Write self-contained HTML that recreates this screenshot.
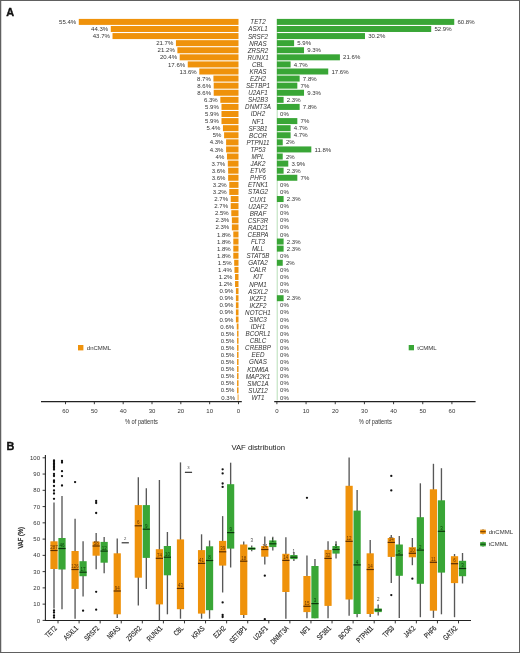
<!DOCTYPE html>
<html><head><meta charset="utf-8"><title>CMML mutations</title>
<style>
html,body{margin:0;padding:0;background:#fff}
body{width:520px;height:653px;overflow:hidden;position:relative}
svg{position:absolute;left:0;top:0;display:block;filter:blur(0.3px)}
.frame{position:absolute;left:0;top:0;width:520px;height:653px;box-sizing:border-box;border:1px solid #606060;box-shadow:inset 1px 0 0 rgba(96,96,96,0.25)}
svg text{font-family:"Liberation Sans",sans-serif}
</style></head><body>
<svg width="520" height="653" viewBox="0 0 520 653" font-family='"Liberation Sans", sans-serif'>
<text x="6.2" y="15.9" font-size="10.9" font-weight="bold" fill="#111" stroke="#111" stroke-width="0.35">A</text>
<text x="6.6" y="449.9" font-size="10.9" font-weight="bold" fill="#111" stroke="#111" stroke-width="0.35">B</text>
<rect x="78.78" y="18.90" width="159.72" height="6.0" fill="#ef920b"/>
<rect x="276.90" y="18.90" width="177.35" height="6.0" fill="#39a636"/>
<rect x="110.78" y="25.98" width="127.72" height="6.0" fill="#ef920b"/>
<rect x="276.90" y="25.98" width="154.31" height="6.0" fill="#39a636"/>
<rect x="112.51" y="33.07" width="125.99" height="6.0" fill="#ef920b"/>
<rect x="276.90" y="33.07" width="88.09" height="6.0" fill="#39a636"/>
<rect x="175.94" y="40.16" width="62.56" height="6.0" fill="#ef920b"/>
<rect x="276.90" y="40.16" width="17.21" height="6.0" fill="#39a636"/>
<rect x="177.38" y="47.24" width="61.12" height="6.0" fill="#ef920b"/>
<rect x="276.90" y="47.24" width="27.13" height="6.0" fill="#39a636"/>
<rect x="179.69" y="54.32" width="58.81" height="6.0" fill="#ef920b"/>
<rect x="276.90" y="54.32" width="63.01" height="6.0" fill="#39a636"/>
<rect x="187.76" y="61.41" width="50.74" height="6.0" fill="#ef920b"/>
<rect x="276.90" y="61.41" width="13.71" height="6.0" fill="#39a636"/>
<rect x="199.29" y="68.50" width="39.21" height="6.0" fill="#ef920b"/>
<rect x="276.90" y="68.50" width="51.34" height="6.0" fill="#39a636"/>
<rect x="213.42" y="75.58" width="25.08" height="6.0" fill="#ef920b"/>
<rect x="276.90" y="75.58" width="22.75" height="6.0" fill="#39a636"/>
<rect x="213.71" y="82.66" width="24.79" height="6.0" fill="#ef920b"/>
<rect x="276.90" y="82.66" width="20.42" height="6.0" fill="#39a636"/>
<rect x="213.71" y="89.75" width="24.79" height="6.0" fill="#ef920b"/>
<rect x="276.90" y="89.75" width="27.13" height="6.0" fill="#39a636"/>
<rect x="220.34" y="96.84" width="18.16" height="6.0" fill="#ef920b"/>
<rect x="276.90" y="96.84" width="6.71" height="6.0" fill="#39a636"/>
<rect x="221.49" y="103.92" width="17.01" height="6.0" fill="#ef920b"/>
<rect x="276.90" y="103.92" width="22.75" height="6.0" fill="#39a636"/>
<rect x="221.49" y="111.00" width="17.01" height="6.0" fill="#ef920b"/>
<rect x="221.49" y="118.09" width="17.01" height="6.0" fill="#ef920b"/>
<rect x="276.90" y="118.09" width="20.42" height="6.0" fill="#39a636"/>
<rect x="222.93" y="125.18" width="15.57" height="6.0" fill="#ef920b"/>
<rect x="276.90" y="125.18" width="13.71" height="6.0" fill="#39a636"/>
<rect x="224.09" y="132.26" width="14.41" height="6.0" fill="#ef920b"/>
<rect x="276.90" y="132.26" width="13.71" height="6.0" fill="#39a636"/>
<rect x="226.10" y="139.34" width="12.40" height="6.0" fill="#ef920b"/>
<rect x="276.90" y="139.34" width="5.83" height="6.0" fill="#39a636"/>
<rect x="226.10" y="146.43" width="12.40" height="6.0" fill="#ef920b"/>
<rect x="276.90" y="146.43" width="34.42" height="6.0" fill="#39a636"/>
<rect x="226.97" y="153.52" width="11.53" height="6.0" fill="#ef920b"/>
<rect x="276.90" y="153.52" width="5.83" height="6.0" fill="#39a636"/>
<rect x="227.83" y="160.60" width="10.67" height="6.0" fill="#ef920b"/>
<rect x="276.90" y="160.60" width="11.38" height="6.0" fill="#39a636"/>
<rect x="228.12" y="167.69" width="10.38" height="6.0" fill="#ef920b"/>
<rect x="276.90" y="167.69" width="6.71" height="6.0" fill="#39a636"/>
<rect x="228.12" y="174.77" width="10.38" height="6.0" fill="#ef920b"/>
<rect x="276.90" y="174.77" width="20.42" height="6.0" fill="#39a636"/>
<rect x="229.27" y="181.86" width="9.23" height="6.0" fill="#ef920b"/>
<rect x="229.27" y="188.94" width="9.23" height="6.0" fill="#ef920b"/>
<rect x="230.72" y="196.03" width="7.78" height="6.0" fill="#ef920b"/>
<rect x="276.90" y="196.03" width="6.71" height="6.0" fill="#39a636"/>
<rect x="230.72" y="203.11" width="7.78" height="6.0" fill="#ef920b"/>
<rect x="231.29" y="210.19" width="7.21" height="6.0" fill="#ef920b"/>
<rect x="231.87" y="217.28" width="6.63" height="6.0" fill="#ef920b"/>
<rect x="231.87" y="224.37" width="6.63" height="6.0" fill="#ef920b"/>
<rect x="233.31" y="231.45" width="5.19" height="6.0" fill="#ef920b"/>
<rect x="233.31" y="238.53" width="5.19" height="6.0" fill="#ef920b"/>
<rect x="276.90" y="238.53" width="6.71" height="6.0" fill="#39a636"/>
<rect x="233.31" y="245.62" width="5.19" height="6.0" fill="#ef920b"/>
<rect x="276.90" y="245.62" width="6.71" height="6.0" fill="#39a636"/>
<rect x="233.31" y="252.71" width="5.19" height="6.0" fill="#ef920b"/>
<rect x="234.18" y="259.79" width="4.32" height="6.0" fill="#ef920b"/>
<rect x="276.90" y="259.79" width="5.83" height="6.0" fill="#39a636"/>
<rect x="234.46" y="266.88" width="4.04" height="6.0" fill="#ef920b"/>
<rect x="235.04" y="273.96" width="3.46" height="6.0" fill="#ef920b"/>
<rect x="235.04" y="281.04" width="3.46" height="6.0" fill="#ef920b"/>
<rect x="235.91" y="288.13" width="2.59" height="6.0" fill="#ef920b"/>
<rect x="235.91" y="295.21" width="2.59" height="6.0" fill="#ef920b"/>
<rect x="276.90" y="295.21" width="6.71" height="6.0" fill="#39a636"/>
<rect x="235.91" y="302.30" width="2.59" height="6.0" fill="#ef920b"/>
<rect x="235.91" y="309.38" width="2.59" height="6.0" fill="#ef920b"/>
<rect x="235.91" y="316.47" width="2.59" height="6.0" fill="#ef920b"/>
<rect x="236.77" y="323.55" width="1.73" height="6.0" fill="#ef920b"/>
<rect x="237.06" y="330.64" width="1.44" height="6.0" fill="#ef920b"/>
<rect x="237.06" y="337.72" width="1.44" height="6.0" fill="#ef920b"/>
<rect x="237.06" y="344.81" width="1.44" height="6.0" fill="#ef920b"/>
<rect x="237.06" y="351.89" width="1.44" height="6.0" fill="#ef920b"/>
<rect x="237.06" y="358.98" width="1.44" height="6.0" fill="#ef920b"/>
<rect x="237.06" y="366.06" width="1.44" height="6.0" fill="#ef920b"/>
<rect x="237.06" y="373.15" width="1.44" height="6.0" fill="#ef920b"/>
<rect x="237.06" y="380.23" width="1.44" height="6.0" fill="#ef920b"/>
<rect x="237.06" y="387.32" width="1.44" height="6.0" fill="#ef920b"/>
<rect x="237.64" y="394.40" width="0.86" height="6.0" fill="#ef920b"/>
<line x1="277.2" y1="18.9" x2="277.2" y2="400.405" stroke="#39a636" stroke-width="0.6" opacity="0.6"/>
<g font-size="6.05" fill="#333" font-family='"Liberation Sans", sans-serif'><text x="76.18" y="24.00" text-anchor="end">55.4%</text><text x="457.45" y="24.00">60.8%</text><text x="108.18" y="31.09" text-anchor="end">44.3%</text><text x="434.41" y="31.09">52.9%</text><text x="109.91" y="38.17" text-anchor="end">43.7%</text><text x="368.19" y="38.17">30.2%</text><text x="173.34" y="45.26" text-anchor="end">21.7%</text><text x="297.31" y="45.26">5.9%</text><text x="174.78" y="52.34" text-anchor="end">21.2%</text><text x="307.23" y="52.34">9.3%</text><text x="177.09" y="59.42" text-anchor="end">20.4%</text><text x="343.11" y="59.42">21.6%</text><text x="185.16" y="66.51" text-anchor="end">17.6%</text><text x="293.81" y="66.51">4.7%</text><text x="196.69" y="73.59" text-anchor="end">13.6%</text><text x="331.44" y="73.59">17.6%</text><text x="210.82" y="80.68" text-anchor="end">8.7%</text><text x="302.85" y="80.68">7.8%</text><text x="211.11" y="87.76" text-anchor="end">8.6%</text><text x="300.52" y="87.76">7%</text><text x="211.11" y="94.85" text-anchor="end">8.6%</text><text x="307.23" y="94.85">9.3%</text><text x="217.74" y="101.94" text-anchor="end">6.3%</text><text x="286.81" y="101.94">2.3%</text><text x="218.89" y="109.02" text-anchor="end">5.9%</text><text x="302.85" y="109.02">7.8%</text><text x="218.89" y="116.10" text-anchor="end">5.9%</text><text x="280.10" y="116.10">0%</text><text x="218.89" y="123.19" text-anchor="end">5.9%</text><text x="300.52" y="123.19">7%</text><text x="220.33" y="130.28" text-anchor="end">5.4%</text><text x="293.81" y="130.28">4.7%</text><text x="221.49" y="137.36" text-anchor="end">5%</text><text x="293.81" y="137.36">4.7%</text><text x="223.50" y="144.44" text-anchor="end">4.3%</text><text x="285.93" y="144.44">2%</text><text x="223.50" y="151.53" text-anchor="end">4.3%</text><text x="314.52" y="151.53">11.8%</text><text x="224.37" y="158.62" text-anchor="end">4%</text><text x="285.93" y="158.62">2%</text><text x="225.23" y="165.70" text-anchor="end">3.7%</text><text x="291.48" y="165.70">3.9%</text><text x="225.52" y="172.78" text-anchor="end">3.6%</text><text x="286.81" y="172.78">2.3%</text><text x="225.52" y="179.87" text-anchor="end">3.6%</text><text x="300.52" y="179.87">7%</text><text x="226.67" y="186.96" text-anchor="end">3.2%</text><text x="280.10" y="186.96">0%</text><text x="226.67" y="194.04" text-anchor="end">3.2%</text><text x="280.10" y="194.04">0%</text><text x="228.12" y="201.12" text-anchor="end">2.7%</text><text x="286.81" y="201.12">2.3%</text><text x="228.12" y="208.21" text-anchor="end">2.7%</text><text x="280.10" y="208.21">0%</text><text x="228.69" y="215.29" text-anchor="end">2.5%</text><text x="280.10" y="215.29">0%</text><text x="229.27" y="222.38" text-anchor="end">2.3%</text><text x="280.10" y="222.38">0%</text><text x="229.27" y="229.47" text-anchor="end">2.3%</text><text x="280.10" y="229.47">0%</text><text x="230.71" y="236.55" text-anchor="end">1.8%</text><text x="280.10" y="236.55">0%</text><text x="230.71" y="243.63" text-anchor="end">1.8%</text><text x="286.81" y="243.63">2.3%</text><text x="230.71" y="250.72" text-anchor="end">1.8%</text><text x="286.81" y="250.72">2.3%</text><text x="230.71" y="257.81" text-anchor="end">1.8%</text><text x="280.10" y="257.81">0%</text><text x="231.58" y="264.89" text-anchor="end">1.5%</text><text x="285.93" y="264.89">2%</text><text x="231.86" y="271.98" text-anchor="end">1.4%</text><text x="280.10" y="271.98">0%</text><text x="232.44" y="279.06" text-anchor="end">1.2%</text><text x="280.10" y="279.06">0%</text><text x="232.44" y="286.14" text-anchor="end">1.2%</text><text x="280.10" y="286.14">0%</text><text x="233.31" y="293.23" text-anchor="end">0.9%</text><text x="280.10" y="293.23">0%</text><text x="233.31" y="300.31" text-anchor="end">0.9%</text><text x="286.81" y="300.31">2.3%</text><text x="233.31" y="307.40" text-anchor="end">0.9%</text><text x="280.10" y="307.40">0%</text><text x="233.31" y="314.49" text-anchor="end">0.9%</text><text x="280.10" y="314.49">0%</text><text x="233.31" y="321.57" text-anchor="end">0.9%</text><text x="280.10" y="321.57">0%</text><text x="234.17" y="328.65" text-anchor="end">0.6%</text><text x="280.10" y="328.65">0%</text><text x="234.46" y="335.74" text-anchor="end">0.5%</text><text x="280.10" y="335.74">0%</text><text x="234.46" y="342.82" text-anchor="end">0.5%</text><text x="280.10" y="342.82">0%</text><text x="234.46" y="349.91" text-anchor="end">0.5%</text><text x="280.10" y="349.91">0%</text><text x="234.46" y="357.00" text-anchor="end">0.5%</text><text x="280.10" y="357.00">0%</text><text x="234.46" y="364.08" text-anchor="end">0.5%</text><text x="280.10" y="364.08">0%</text><text x="234.46" y="371.17" text-anchor="end">0.5%</text><text x="280.10" y="371.17">0%</text><text x="234.46" y="378.25" text-anchor="end">0.5%</text><text x="280.10" y="378.25">0%</text><text x="234.46" y="385.33" text-anchor="end">0.5%</text><text x="280.10" y="385.33">0%</text><text x="234.46" y="392.42" text-anchor="end">0.5%</text><text x="280.10" y="392.42">0%</text><text x="235.04" y="399.50" text-anchor="end">0.3%</text><text x="280.10" y="399.50">0%</text></g>
<g font-size="6.5" font-style="italic" fill="#333" transform="translate(258 0) scale(0.965 1) translate(-258 0)"><text x="258" y="24.40" text-anchor="middle">TET2</text><text x="258" y="31.48" text-anchor="middle">ASXL1</text><text x="258" y="38.57" text-anchor="middle">SRSF2</text><text x="258" y="45.66" text-anchor="middle">NRAS</text><text x="258" y="52.74" text-anchor="middle">ZRSR2</text><text x="258" y="59.82" text-anchor="middle">RUNX1</text><text x="258" y="66.91" text-anchor="middle">CBL</text><text x="258" y="74.00" text-anchor="middle">KRAS</text><text x="258" y="81.08" text-anchor="middle">EZH2</text><text x="258" y="88.16" text-anchor="middle">SETBP1</text><text x="258" y="95.25" text-anchor="middle">U2AF1</text><text x="258" y="102.34" text-anchor="middle">SH2B3</text><text x="258" y="109.42" text-anchor="middle">DNMT3A</text><text x="258" y="116.50" text-anchor="middle">IDH2</text><text x="258" y="123.59" text-anchor="middle">NF1</text><text x="258" y="130.68" text-anchor="middle">SF3B1</text><text x="258" y="137.76" text-anchor="middle">BCOR</text><text x="258" y="144.84" text-anchor="middle">PTPN11</text><text x="258" y="151.93" text-anchor="middle">TP53</text><text x="258" y="159.02" text-anchor="middle">MPL</text><text x="258" y="166.10" text-anchor="middle">JAK2</text><text x="258" y="173.19" text-anchor="middle">ETV6</text><text x="258" y="180.27" text-anchor="middle">PHF6</text><text x="258" y="187.36" text-anchor="middle">ETNK1</text><text x="258" y="194.44" text-anchor="middle">STAG2</text><text x="258" y="201.53" text-anchor="middle">CUX1</text><text x="258" y="208.61" text-anchor="middle">U2AF2</text><text x="258" y="215.69" text-anchor="middle">BRAF</text><text x="258" y="222.78" text-anchor="middle">CSF3R</text><text x="258" y="229.87" text-anchor="middle">RAD21</text><text x="258" y="236.95" text-anchor="middle">CEBPA</text><text x="258" y="244.03" text-anchor="middle">FLT3</text><text x="258" y="251.12" text-anchor="middle">MLL</text><text x="258" y="258.21" text-anchor="middle">STAT5B</text><text x="258" y="265.29" text-anchor="middle">GATA2</text><text x="258" y="272.38" text-anchor="middle">CALR</text><text x="258" y="279.46" text-anchor="middle">KIT</text><text x="258" y="286.54" text-anchor="middle">NPM1</text><text x="258" y="293.63" text-anchor="middle">ASXL2</text><text x="258" y="300.71" text-anchor="middle">IKZF1</text><text x="258" y="307.80" text-anchor="middle">IKZF2</text><text x="258" y="314.88" text-anchor="middle">NOTCH1</text><text x="258" y="321.97" text-anchor="middle">SMC3</text><text x="258" y="329.05" text-anchor="middle">IDH1</text><text x="258" y="336.14" text-anchor="middle">BCORL1</text><text x="258" y="343.22" text-anchor="middle">CBLC</text><text x="258" y="350.31" text-anchor="middle">CREBBP</text><text x="258" y="357.39" text-anchor="middle">EED</text><text x="258" y="364.48" text-anchor="middle">GNAS</text><text x="258" y="371.56" text-anchor="middle">KDM6A</text><text x="258" y="378.65" text-anchor="middle">MAP2K1</text><text x="258" y="385.73" text-anchor="middle">SMC1A</text><text x="258" y="392.82" text-anchor="middle">SUZ12</text><text x="258" y="399.90" text-anchor="middle">WT1</text></g>
<line x1="41" y1="401.6" x2="241.8" y2="401.6" stroke="#222" stroke-width="1.1"/>
<line x1="274.2" y1="401.6" x2="475.6" y2="401.6" stroke="#222" stroke-width="1.1"/>
<line x1="238.50" y1="401.6" x2="238.50" y2="404.20000000000005" stroke="#222" stroke-width="0.9"/>
<line x1="276.90" y1="401.6" x2="276.90" y2="404.20000000000005" stroke="#222" stroke-width="0.9"/>
<line x1="209.67" y1="401.6" x2="209.67" y2="404.20000000000005" stroke="#222" stroke-width="0.9"/>
<line x1="306.07" y1="401.6" x2="306.07" y2="404.20000000000005" stroke="#222" stroke-width="0.9"/>
<line x1="180.84" y1="401.6" x2="180.84" y2="404.20000000000005" stroke="#222" stroke-width="0.9"/>
<line x1="335.24" y1="401.6" x2="335.24" y2="404.20000000000005" stroke="#222" stroke-width="0.9"/>
<line x1="152.01" y1="401.6" x2="152.01" y2="404.20000000000005" stroke="#222" stroke-width="0.9"/>
<line x1="364.41" y1="401.6" x2="364.41" y2="404.20000000000005" stroke="#222" stroke-width="0.9"/>
<line x1="123.18" y1="401.6" x2="123.18" y2="404.20000000000005" stroke="#222" stroke-width="0.9"/>
<line x1="393.58" y1="401.6" x2="393.58" y2="404.20000000000005" stroke="#222" stroke-width="0.9"/>
<line x1="94.35" y1="401.6" x2="94.35" y2="404.20000000000005" stroke="#222" stroke-width="0.9"/>
<line x1="422.75" y1="401.6" x2="422.75" y2="404.20000000000005" stroke="#222" stroke-width="0.9"/>
<line x1="65.52" y1="401.6" x2="65.52" y2="404.20000000000005" stroke="#222" stroke-width="0.9"/>
<line x1="451.92" y1="401.6" x2="451.92" y2="404.20000000000005" stroke="#222" stroke-width="0.9"/>
<g font-size="6" fill="#333"><text x="238.50" y="412.8" text-anchor="middle">0</text><text x="276.90" y="412.8" text-anchor="middle">0</text><text x="209.67" y="412.8" text-anchor="middle">10</text><text x="306.07" y="412.8" text-anchor="middle">10</text><text x="180.84" y="412.8" text-anchor="middle">20</text><text x="335.24" y="412.8" text-anchor="middle">20</text><text x="152.01" y="412.8" text-anchor="middle">30</text><text x="364.41" y="412.8" text-anchor="middle">30</text><text x="123.18" y="412.8" text-anchor="middle">40</text><text x="393.58" y="412.8" text-anchor="middle">40</text><text x="94.35" y="412.8" text-anchor="middle">50</text><text x="422.75" y="412.8" text-anchor="middle">50</text><text x="65.52" y="412.8" text-anchor="middle">60</text><text x="451.92" y="412.8" text-anchor="middle">60</text></g>
<text x="141.4" y="424" font-size="7.4" fill="#333" text-anchor="middle" textLength="33" lengthAdjust="spacingAndGlyphs">% of patients</text>
<text x="375.3" y="424" font-size="7.4" fill="#333" text-anchor="middle" textLength="33" lengthAdjust="spacingAndGlyphs">% of patients</text>
<rect x="78" y="345" width="5.4" height="5.4" fill="#ef920b"/>
<text x="86.8" y="350" font-size="6" fill="#333">dnCMML</text>
<rect x="408.7" y="345" width="5.3" height="5.3" fill="#39a636"/>
<text x="417.3" y="350" font-size="6" fill="#333">tCMML</text>
<text x="258.3" y="450" font-size="7.7" fill="#222" text-anchor="middle">VAF distribution</text>
<line x1="45.4" y1="455" x2="45.4" y2="621" stroke="#222" stroke-width="1.1"/>
<line x1="44.9" y1="620.5" x2="471" y2="620.5" stroke="#222" stroke-width="1.1"/>
<line x1="42.6" y1="620.40" x2="45.4" y2="620.40" stroke="#222" stroke-width="0.9"/>
<line x1="42.6" y1="604.14" x2="45.4" y2="604.14" stroke="#222" stroke-width="0.9"/>
<line x1="42.6" y1="587.88" x2="45.4" y2="587.88" stroke="#222" stroke-width="0.9"/>
<line x1="42.6" y1="571.62" x2="45.4" y2="571.62" stroke="#222" stroke-width="0.9"/>
<line x1="42.6" y1="555.36" x2="45.4" y2="555.36" stroke="#222" stroke-width="0.9"/>
<line x1="42.6" y1="539.10" x2="45.4" y2="539.10" stroke="#222" stroke-width="0.9"/>
<line x1="42.6" y1="522.84" x2="45.4" y2="522.84" stroke="#222" stroke-width="0.9"/>
<line x1="42.6" y1="506.58" x2="45.4" y2="506.58" stroke="#222" stroke-width="0.9"/>
<line x1="42.6" y1="490.32" x2="45.4" y2="490.32" stroke="#222" stroke-width="0.9"/>
<line x1="42.6" y1="474.06" x2="45.4" y2="474.06" stroke="#222" stroke-width="0.9"/>
<line x1="42.6" y1="457.80" x2="45.4" y2="457.80" stroke="#222" stroke-width="0.9"/>
<g font-size="6" fill="#333"><text x="40" y="622.50" text-anchor="end">0</text><text x="40" y="606.24" text-anchor="end">10</text><text x="40" y="589.98" text-anchor="end">20</text><text x="40" y="573.72" text-anchor="end">30</text><text x="40" y="557.46" text-anchor="end">40</text><text x="40" y="541.20" text-anchor="end">50</text><text x="40" y="524.94" text-anchor="end">60</text><text x="40" y="508.68" text-anchor="end">70</text><text x="40" y="492.42" text-anchor="end">80</text><text x="40" y="476.16" text-anchor="end">90</text><text x="40" y="459.90" text-anchor="end">100</text></g>
<text transform="translate(23.3 537.8) rotate(-90)" font-size="6.6" fill="#222" stroke="#222" stroke-width="0.25" text-anchor="middle" textLength="21.6" lengthAdjust="spacingAndGlyphs">VAF (%)</text>
<line x1="54.00" y1="502.5" x2="54.00" y2="608.5" stroke="#585858" stroke-width="1.35"/>
<rect x="50.40" y="541.3" width="7.2" height="27.70" fill="#ef920b"/>
<line x1="50.40" y1="550.5" x2="57.60" y2="550.5" stroke="#5b2e00" stroke-width="1.2"/>
<text x="54.00" y="549.10" font-size="4.5" fill="#683600" text-anchor="middle">287</text>
<circle cx="54.00" cy="460.5" r="1.15" fill="#111"/>
<circle cx="54.00" cy="462" r="1.15" fill="#111"/>
<circle cx="54.00" cy="463.5" r="1.15" fill="#111"/>
<circle cx="54.00" cy="465" r="1.15" fill="#111"/>
<circle cx="54.00" cy="466.5" r="1.15" fill="#111"/>
<circle cx="54.00" cy="468" r="1.15" fill="#111"/>
<circle cx="54.00" cy="469.5" r="1.15" fill="#111"/>
<circle cx="54.00" cy="474" r="1.15" fill="#111"/>
<circle cx="54.00" cy="476" r="1.15" fill="#111"/>
<circle cx="54.00" cy="480.5" r="1.15" fill="#111"/>
<circle cx="54.00" cy="482" r="1.15" fill="#111"/>
<circle cx="54.00" cy="486" r="1.15" fill="#111"/>
<circle cx="54.00" cy="490.5" r="1.15" fill="#111"/>
<circle cx="54.00" cy="493.5" r="1.15" fill="#111"/>
<circle cx="54.00" cy="498.8" r="1.15" fill="#111"/>
<circle cx="54.00" cy="610.5" r="1.15" fill="#111"/>
<circle cx="54.00" cy="612.5" r="1.15" fill="#111"/>
<circle cx="54.00" cy="615.5" r="1.15" fill="#111"/>
<circle cx="54.00" cy="617.5" r="1.15" fill="#111"/>
<line x1="62.00" y1="496" x2="62.00" y2="609.2" stroke="#585858" stroke-width="1.35"/>
<rect x="58.40" y="538" width="7.2" height="31.50" fill="#39a636"/>
<line x1="58.40" y1="548.5" x2="65.60" y2="548.5" stroke="#0b350b" stroke-width="1.2"/>
<text x="62.00" y="547.10" font-size="4.5" fill="#0a400a" text-anchor="middle">46</text>
<circle cx="62.00" cy="461" r="1.15" fill="#111"/>
<circle cx="62.00" cy="462.5" r="1.15" fill="#111"/>
<circle cx="62.00" cy="471.2" r="1.15" fill="#111"/>
<circle cx="62.00" cy="476.1" r="1.15" fill="#111"/>
<circle cx="62.00" cy="485.5" r="1.15" fill="#111"/>
<line x1="75.08" y1="518.7" x2="75.08" y2="618.7" stroke="#585858" stroke-width="1.35"/>
<rect x="71.48" y="551" width="7.2" height="37.90" fill="#ef920b"/>
<line x1="71.48" y1="569.5" x2="78.68" y2="569.5" stroke="#5b2e00" stroke-width="1.2"/>
<text x="75.08" y="568.10" font-size="4.5" fill="#683600" text-anchor="middle">126</text>
<circle cx="75.08" cy="482.1" r="1.15" fill="#111"/>
<line x1="83.08" y1="541.3" x2="83.08" y2="596.4" stroke="#585858" stroke-width="1.35"/>
<rect x="79.48" y="561.2" width="7.2" height="15.00" fill="#39a636"/>
<line x1="79.48" y1="572.2" x2="86.68" y2="572.2" stroke="#0b350b" stroke-width="1.2"/>
<text x="83.08" y="570.80" font-size="4.5" fill="#0a400a" text-anchor="middle">17</text>
<circle cx="83.08" cy="610.7" r="1.15" fill="#111"/>
<line x1="96.16" y1="532.9" x2="96.16" y2="569.2" stroke="#585858" stroke-width="1.35"/>
<rect x="92.56" y="541.6" width="7.2" height="14.10" fill="#ef920b"/>
<line x1="92.56" y1="546" x2="99.76" y2="546" stroke="#5b2e00" stroke-width="1.2"/>
<text x="96.16" y="544.60" font-size="4.5" fill="#683600" text-anchor="middle">58</text>
<circle cx="96.16" cy="501" r="1.15" fill="#111"/>
<circle cx="96.16" cy="503" r="1.15" fill="#111"/>
<circle cx="96.16" cy="513" r="1.15" fill="#111"/>
<circle cx="96.16" cy="591.8" r="1.15" fill="#111"/>
<circle cx="96.16" cy="609.7" r="1.15" fill="#111"/>
<line x1="104.16" y1="537" x2="104.16" y2="573.3" stroke="#585858" stroke-width="1.35"/>
<rect x="100.56" y="541.9" width="7.2" height="20.80" fill="#39a636"/>
<line x1="100.56" y1="551.1" x2="107.76" y2="551.1" stroke="#0b350b" stroke-width="1.2"/>
<text x="104.16" y="549.70" font-size="4.5" fill="#0a400a" text-anchor="middle">12</text>
<line x1="117.24" y1="538.4" x2="117.24" y2="617.9" stroke="#585858" stroke-width="1.35"/>
<rect x="113.64" y="553.3" width="7.2" height="61.00" fill="#ef920b"/>
<line x1="113.64" y1="591" x2="120.84" y2="591" stroke="#5b2e00" stroke-width="1.2"/>
<text x="117.24" y="589.60" font-size="4.5" fill="#683600" text-anchor="middle">94</text>
<line x1="121.64" y1="542.8" x2="128.84" y2="542.8" stroke="#222" stroke-width="1.1"/>
<text x="125.24" y="539.8" font-size="4.2" fill="#444" text-anchor="middle">2</text>
<line x1="138.32" y1="477.3" x2="138.32" y2="605.6" stroke="#585858" stroke-width="1.35"/>
<rect x="134.72" y="505.1" width="7.2" height="72.60" fill="#ef920b"/>
<line x1="134.72" y1="525.8" x2="141.92" y2="525.8" stroke="#5b2e00" stroke-width="1.2"/>
<text x="138.32" y="524.40" font-size="4.5" fill="#683600" text-anchor="middle">6</text>
<line x1="146.32" y1="488.3" x2="146.32" y2="588.9" stroke="#585858" stroke-width="1.35"/>
<rect x="142.72" y="505.1" width="7.2" height="52.80" fill="#39a636"/>
<line x1="142.72" y1="529.2" x2="149.92" y2="529.2" stroke="#0b350b" stroke-width="1.2"/>
<text x="146.32" y="527.80" font-size="4.5" fill="#0a400a" text-anchor="middle">9</text>
<line x1="159.40" y1="480" x2="159.40" y2="620.1" stroke="#585858" stroke-width="1.35"/>
<rect x="155.80" y="549.2" width="7.2" height="55.20" fill="#ef920b"/>
<line x1="155.80" y1="558.3" x2="163.00" y2="558.3" stroke="#5b2e00" stroke-width="1.2"/>
<text x="159.40" y="556.90" font-size="4.5" fill="#683600" text-anchor="middle">74</text>
<line x1="167.40" y1="532" x2="167.40" y2="614.3" stroke="#585858" stroke-width="1.35"/>
<rect x="163.80" y="546" width="7.2" height="29.30" fill="#39a636"/>
<line x1="163.80" y1="557.2" x2="171.00" y2="557.2" stroke="#0b350b" stroke-width="1.2"/>
<text x="167.40" y="555.80" font-size="4.5" fill="#0a400a" text-anchor="middle">10</text>
<line x1="180.48" y1="462.4" x2="180.48" y2="618.7" stroke="#585858" stroke-width="1.35"/>
<rect x="176.88" y="539.4" width="7.2" height="69.80" fill="#ef920b"/>
<line x1="176.88" y1="588.4" x2="184.08" y2="588.4" stroke="#5b2e00" stroke-width="1.2"/>
<text x="180.48" y="587.00" font-size="4.5" fill="#683600" text-anchor="middle">43</text>
<line x1="184.88" y1="472.3" x2="192.08" y2="472.3" stroke="#222" stroke-width="1.1"/>
<text x="188.48" y="469.3" font-size="4.2" fill="#444" text-anchor="middle">3</text>
<line x1="201.56" y1="534.3" x2="201.56" y2="618.7" stroke="#585858" stroke-width="1.35"/>
<rect x="197.96" y="550.1" width="7.2" height="63.50" fill="#ef920b"/>
<line x1="197.96" y1="563.4" x2="205.16" y2="563.4" stroke="#5b2e00" stroke-width="1.2"/>
<text x="201.56" y="562.00" font-size="4.5" fill="#683600" text-anchor="middle">41</text>
<line x1="209.56" y1="540.5" x2="209.56" y2="618.7" stroke="#585858" stroke-width="1.35"/>
<rect x="205.96" y="546.3" width="7.2" height="63.90" fill="#39a636"/>
<line x1="205.96" y1="560.5" x2="213.16" y2="560.5" stroke="#0b350b" stroke-width="1.2"/>
<text x="209.56" y="559.10" font-size="4.5" fill="#0a400a" text-anchor="middle">8</text>
<line x1="222.64" y1="516.1" x2="222.64" y2="592.5" stroke="#585858" stroke-width="1.35"/>
<rect x="219.04" y="540.9" width="7.2" height="24.70" fill="#ef920b"/>
<line x1="219.04" y1="551.8" x2="226.24" y2="551.8" stroke="#5b2e00" stroke-width="1.2"/>
<text x="222.64" y="550.40" font-size="4.5" fill="#683600" text-anchor="middle">39</text>
<circle cx="222.64" cy="469.3" r="1.15" fill="#111"/>
<circle cx="222.64" cy="473.4" r="1.15" fill="#111"/>
<circle cx="222.64" cy="483.5" r="1.15" fill="#111"/>
<circle cx="222.64" cy="486.9" r="1.15" fill="#111"/>
<circle cx="222.64" cy="602.4" r="1.15" fill="#111"/>
<circle cx="222.64" cy="615" r="1.15" fill="#111"/>
<circle cx="222.64" cy="617" r="1.15" fill="#111"/>
<line x1="230.64" y1="462.7" x2="230.64" y2="567.5" stroke="#585858" stroke-width="1.35"/>
<rect x="227.04" y="484.2" width="7.2" height="64.40" fill="#39a636"/>
<line x1="227.04" y1="532.6" x2="234.24" y2="532.6" stroke="#0b350b" stroke-width="1.2"/>
<text x="230.64" y="531.20" font-size="4.5" fill="#0a400a" text-anchor="middle">9</text>
<line x1="243.72" y1="541.6" x2="243.72" y2="617.9" stroke="#585858" stroke-width="1.35"/>
<rect x="240.12" y="544.5" width="7.2" height="70.50" fill="#ef920b"/>
<line x1="240.12" y1="561.2" x2="247.32" y2="561.2" stroke="#5b2e00" stroke-width="1.2"/>
<text x="243.72" y="559.80" font-size="4.5" fill="#683600" text-anchor="middle">18</text>
<line x1="251.72" y1="545.5" x2="251.72" y2="551.3" stroke="#585858" stroke-width="1.35"/>
<rect x="248.12" y="547.4" width="7.2" height="2.40" fill="#39a636"/>
<line x1="248.12" y1="548.6" x2="255.32" y2="548.6" stroke="#0b350b" stroke-width="1.2"/>
<text x="251.72" y="542.00" font-size="4.5" fill="#444" text-anchor="middle">3</text>
<line x1="264.80" y1="536.5" x2="264.80" y2="564.4" stroke="#585858" stroke-width="1.35"/>
<rect x="261.20" y="546" width="7.2" height="10.70" fill="#ef920b"/>
<line x1="261.20" y1="549.5" x2="268.40" y2="549.5" stroke="#5b2e00" stroke-width="1.2"/>
<text x="264.80" y="548.10" font-size="4.5" fill="#683600" text-anchor="middle">14</text>
<circle cx="264.80" cy="575.7" r="1.15" fill="#111"/>
<circle cx="264.80" cy="619.2" r="1.15" fill="#111"/>
<line x1="272.80" y1="536.7" x2="272.80" y2="550.5" stroke="#585858" stroke-width="1.35"/>
<rect x="269.20" y="540.4" width="7.2" height="6.70" fill="#39a636"/>
<line x1="269.20" y1="543.8" x2="276.40" y2="543.8" stroke="#0b350b" stroke-width="1.2"/>
<text x="272.80" y="542.40" font-size="4.5" fill="#0a400a" text-anchor="middle">1</text>
<line x1="285.88" y1="537.3" x2="285.88" y2="618.8" stroke="#585858" stroke-width="1.35"/>
<rect x="282.28" y="553.8" width="7.2" height="38.20" fill="#ef920b"/>
<line x1="282.28" y1="560.4" x2="289.48" y2="560.4" stroke="#5b2e00" stroke-width="1.2"/>
<text x="285.88" y="559.00" font-size="4.5" fill="#683600" text-anchor="middle">14</text>
<line x1="293.88" y1="552.4" x2="293.88" y2="561.1" stroke="#585858" stroke-width="1.35"/>
<rect x="290.28" y="555" width="7.2" height="4.10" fill="#39a636"/>
<line x1="290.28" y1="557.2" x2="297.48" y2="557.2" stroke="#0b350b" stroke-width="1.2"/>
<text x="293.88" y="552.60" font-size="4.5" fill="#444" text-anchor="middle">1</text>
<line x1="306.96" y1="555.4" x2="306.96" y2="618.3" stroke="#585858" stroke-width="1.35"/>
<rect x="303.36" y="576" width="7.2" height="36.10" fill="#ef920b"/>
<line x1="303.36" y1="606.3" x2="310.56" y2="606.3" stroke="#5b2e00" stroke-width="1.2"/>
<text x="306.96" y="604.90" font-size="4.5" fill="#683600" text-anchor="middle">15</text>
<circle cx="306.96" cy="497.8" r="1.15" fill="#111"/>
<line x1="314.96" y1="559.1" x2="314.96" y2="618.3" stroke="#585858" stroke-width="1.35"/>
<rect x="311.36" y="566" width="7.2" height="52.30" fill="#39a636"/>
<line x1="311.36" y1="603.6" x2="318.56" y2="603.6" stroke="#0b350b" stroke-width="1.2"/>
<text x="314.96" y="602.20" font-size="4.5" fill="#0a400a" text-anchor="middle">3</text>
<line x1="328.04" y1="541.2" x2="328.04" y2="618.3" stroke="#585858" stroke-width="1.35"/>
<rect x="324.44" y="549.9" width="7.2" height="56.00" fill="#ef920b"/>
<line x1="324.44" y1="558.4" x2="331.64" y2="558.4" stroke="#5b2e00" stroke-width="1.2"/>
<text x="328.04" y="557.00" font-size="4.5" fill="#683600" text-anchor="middle">32</text>
<line x1="336.04" y1="541.2" x2="336.04" y2="558.4" stroke="#585858" stroke-width="1.35"/>
<rect x="332.44" y="546" width="7.2" height="7.60" fill="#39a636"/>
<line x1="332.44" y1="549.5" x2="339.64" y2="549.5" stroke="#0b350b" stroke-width="1.2"/>
<text x="336.04" y="548.10" font-size="4.5" fill="#0a400a" text-anchor="middle">5</text>
<line x1="349.12" y1="457.6" x2="349.12" y2="615.8" stroke="#585858" stroke-width="1.35"/>
<rect x="345.52" y="485.8" width="7.2" height="113.70" fill="#ef920b"/>
<line x1="345.52" y1="541.3" x2="352.72" y2="541.3" stroke="#5b2e00" stroke-width="1.2"/>
<text x="349.12" y="539.90" font-size="4.5" fill="#683600" text-anchor="middle">12</text>
<line x1="357.12" y1="490" x2="357.12" y2="617.2" stroke="#585858" stroke-width="1.35"/>
<rect x="353.52" y="510.6" width="7.2" height="103.40" fill="#39a636"/>
<line x1="353.52" y1="564.9" x2="360.72" y2="564.9" stroke="#0b350b" stroke-width="1.2"/>
<text x="357.12" y="563.50" font-size="4.5" fill="#0a400a" text-anchor="middle">4</text>
<line x1="370.20" y1="539.9" x2="370.20" y2="616.9" stroke="#585858" stroke-width="1.35"/>
<rect x="366.60" y="553.3" width="7.2" height="60.70" fill="#ef920b"/>
<line x1="366.60" y1="569.5" x2="373.80" y2="569.5" stroke="#5b2e00" stroke-width="1.2"/>
<text x="370.20" y="568.10" font-size="4.5" fill="#683600" text-anchor="middle">14</text>
<line x1="378.20" y1="604.4" x2="378.20" y2="615.5" stroke="#585858" stroke-width="1.35"/>
<rect x="374.60" y="608.5" width="7.2" height="3.60" fill="#39a636"/>
<line x1="374.60" y1="610" x2="381.80" y2="610" stroke="#0b350b" stroke-width="1.2"/>
<text x="378.20" y="601.20" font-size="4.5" fill="#444" text-anchor="middle">2</text>
<line x1="391.28" y1="535.1" x2="391.28" y2="583" stroke="#585858" stroke-width="1.35"/>
<rect x="387.68" y="538" width="7.2" height="18.90" fill="#ef920b"/>
<line x1="387.68" y1="542.4" x2="394.88" y2="542.4" stroke="#5b2e00" stroke-width="1.2"/>
<text x="391.28" y="541.00" font-size="4.5" fill="#683600" text-anchor="middle">34</text>
<circle cx="391.28" cy="475.9" r="1.15" fill="#111"/>
<circle cx="391.28" cy="490.4" r="1.15" fill="#111"/>
<circle cx="391.28" cy="595.1" r="1.15" fill="#111"/>
<line x1="399.28" y1="536.1" x2="399.28" y2="617.9" stroke="#585858" stroke-width="1.35"/>
<rect x="395.68" y="544.5" width="7.2" height="31.30" fill="#39a636"/>
<line x1="395.68" y1="555" x2="402.88" y2="555" stroke="#0b350b" stroke-width="1.2"/>
<text x="399.28" y="553.60" font-size="4.5" fill="#0a400a" text-anchor="middle">5</text>
<line x1="412.36" y1="538" x2="412.36" y2="565.2" stroke="#585858" stroke-width="1.35"/>
<rect x="408.76" y="547.2" width="7.2" height="10.10" fill="#ef920b"/>
<line x1="408.76" y1="553.3" x2="415.96" y2="553.3" stroke="#5b2e00" stroke-width="1.2"/>
<text x="412.36" y="551.90" font-size="4.5" fill="#683600" text-anchor="middle">10</text>
<circle cx="412.36" cy="578.7" r="1.15" fill="#111"/>
<line x1="420.36" y1="483.3" x2="420.36" y2="617.2" stroke="#585858" stroke-width="1.35"/>
<rect x="416.76" y="517.2" width="7.2" height="66.60" fill="#39a636"/>
<line x1="416.76" y1="550.1" x2="423.96" y2="550.1" stroke="#0b350b" stroke-width="1.2"/>
<text x="420.36" y="548.70" font-size="4.5" fill="#0a400a" text-anchor="middle">2</text>
<line x1="433.44" y1="463.8" x2="433.44" y2="617.9" stroke="#585858" stroke-width="1.35"/>
<rect x="429.84" y="489.3" width="7.2" height="121.40" fill="#ef920b"/>
<line x1="429.84" y1="562.3" x2="437.04" y2="562.3" stroke="#5b2e00" stroke-width="1.2"/>
<text x="433.44" y="560.90" font-size="4.5" fill="#683600" text-anchor="middle">11</text>
<line x1="441.44" y1="468.2" x2="441.44" y2="614.3" stroke="#585858" stroke-width="1.35"/>
<rect x="437.84" y="500.3" width="7.2" height="72.30" fill="#39a636"/>
<line x1="437.84" y1="531.3" x2="445.04" y2="531.3" stroke="#0b350b" stroke-width="1.2"/>
<text x="441.44" y="529.90" font-size="4.5" fill="#0a400a" text-anchor="middle">3</text>
<line x1="454.52" y1="554" x2="454.52" y2="617.2" stroke="#585858" stroke-width="1.35"/>
<rect x="450.92" y="556.2" width="7.2" height="26.90" fill="#ef920b"/>
<line x1="450.92" y1="563.7" x2="458.12" y2="563.7" stroke="#5b2e00" stroke-width="1.2"/>
<text x="454.52" y="562.30" font-size="4.5" fill="#683600" text-anchor="middle">6</text>
<line x1="462.52" y1="553" x2="462.52" y2="583.5" stroke="#585858" stroke-width="1.35"/>
<rect x="458.92" y="560.8" width="7.2" height="15.40" fill="#39a636"/>
<line x1="458.92" y1="568.5" x2="466.12" y2="568.5" stroke="#0b350b" stroke-width="1.2"/>
<text x="462.52" y="567.10" font-size="4.5" fill="#0a400a" text-anchor="middle">3</text>
<line x1="58.00" y1="620.5" x2="58.00" y2="623.4" stroke="#222" stroke-width="0.9"/>
<line x1="79.08" y1="620.5" x2="79.08" y2="623.4" stroke="#222" stroke-width="0.9"/>
<line x1="100.16" y1="620.5" x2="100.16" y2="623.4" stroke="#222" stroke-width="0.9"/>
<line x1="121.24" y1="620.5" x2="121.24" y2="623.4" stroke="#222" stroke-width="0.9"/>
<line x1="142.32" y1="620.5" x2="142.32" y2="623.4" stroke="#222" stroke-width="0.9"/>
<line x1="163.40" y1="620.5" x2="163.40" y2="623.4" stroke="#222" stroke-width="0.9"/>
<line x1="184.48" y1="620.5" x2="184.48" y2="623.4" stroke="#222" stroke-width="0.9"/>
<line x1="205.56" y1="620.5" x2="205.56" y2="623.4" stroke="#222" stroke-width="0.9"/>
<line x1="226.64" y1="620.5" x2="226.64" y2="623.4" stroke="#222" stroke-width="0.9"/>
<line x1="247.72" y1="620.5" x2="247.72" y2="623.4" stroke="#222" stroke-width="0.9"/>
<line x1="268.80" y1="620.5" x2="268.80" y2="623.4" stroke="#222" stroke-width="0.9"/>
<line x1="289.88" y1="620.5" x2="289.88" y2="623.4" stroke="#222" stroke-width="0.9"/>
<line x1="310.96" y1="620.5" x2="310.96" y2="623.4" stroke="#222" stroke-width="0.9"/>
<line x1="332.04" y1="620.5" x2="332.04" y2="623.4" stroke="#222" stroke-width="0.9"/>
<line x1="353.12" y1="620.5" x2="353.12" y2="623.4" stroke="#222" stroke-width="0.9"/>
<line x1="374.20" y1="620.5" x2="374.20" y2="623.4" stroke="#222" stroke-width="0.9"/>
<line x1="395.28" y1="620.5" x2="395.28" y2="623.4" stroke="#222" stroke-width="0.9"/>
<line x1="416.36" y1="620.5" x2="416.36" y2="623.4" stroke="#222" stroke-width="0.9"/>
<line x1="437.44" y1="620.5" x2="437.44" y2="623.4" stroke="#222" stroke-width="0.9"/>
<line x1="458.52" y1="620.5" x2="458.52" y2="623.4" stroke="#222" stroke-width="0.9"/>
<g font-size="7.4" fill="#222" stroke="#222" stroke-width="0.15"><text transform="translate(57.50 628.8) rotate(-45) scale(0.74 1)" text-anchor="end">TET2</text><text transform="translate(78.58 628.8) rotate(-45) scale(0.74 1)" text-anchor="end">ASXL1</text><text transform="translate(99.66 628.8) rotate(-45) scale(0.74 1)" text-anchor="end">SRSF2</text><text transform="translate(120.74 628.8) rotate(-45) scale(0.74 1)" text-anchor="end">NRAS</text><text transform="translate(141.82 628.8) rotate(-45) scale(0.74 1)" text-anchor="end">ZRSR2</text><text transform="translate(162.90 628.8) rotate(-45) scale(0.74 1)" text-anchor="end">RUNX1</text><text transform="translate(183.98 628.8) rotate(-45) scale(0.74 1)" text-anchor="end">CBL</text><text transform="translate(205.06 628.8) rotate(-45) scale(0.74 1)" text-anchor="end">KRAS</text><text transform="translate(226.14 628.8) rotate(-45) scale(0.74 1)" text-anchor="end">EZH2</text><text transform="translate(247.22 628.8) rotate(-45) scale(0.74 1)" text-anchor="end">SETBP1</text><text transform="translate(268.30 628.8) rotate(-45) scale(0.74 1)" text-anchor="end">U2AF1</text><text transform="translate(289.38 628.8) rotate(-45) scale(0.74 1)" text-anchor="end">DNMT3A</text><text transform="translate(310.46 628.8) rotate(-45) scale(0.74 1)" text-anchor="end">NF1</text><text transform="translate(331.54 628.8) rotate(-45) scale(0.74 1)" text-anchor="end">SF3B1</text><text transform="translate(352.62 628.8) rotate(-45) scale(0.74 1)" text-anchor="end">BCOR</text><text transform="translate(373.70 628.8) rotate(-45) scale(0.74 1)" text-anchor="end">PTPN11</text><text transform="translate(394.78 628.8) rotate(-45) scale(0.74 1)" text-anchor="end">TP53</text><text transform="translate(415.86 628.8) rotate(-45) scale(0.74 1)" text-anchor="end">JAK2</text><text transform="translate(436.94 628.8) rotate(-45) scale(0.74 1)" text-anchor="end">PHF6</text><text transform="translate(458.02 628.8) rotate(-45) scale(0.74 1)" text-anchor="end">GATA2</text></g>
<line x1="483" y1="529.0" x2="483" y2="534.4000000000001" stroke="#585858" stroke-width="0.9"/>
<rect x="480.2" y="529.6" width="5.6" height="4.2" fill="#ef920b"/>
<line x1="480.2" y1="531.7" x2="485.8" y2="531.7" stroke="#5b2e00" stroke-width="0.9"/>
<text x="488.7" y="533.8000000000001" font-size="6" fill="#333">dnCMML</text>
<line x1="483" y1="541.5" x2="483" y2="546.9000000000001" stroke="#585858" stroke-width="0.9"/>
<rect x="480.2" y="542.1" width="5.6" height="4.2" fill="#39a636"/>
<line x1="480.2" y1="544.2" x2="485.8" y2="544.2" stroke="#0b350b" stroke-width="0.9"/>
<text x="488.7" y="546.3000000000001" font-size="6" fill="#333">tCMML</text>
</svg>
<div class="frame"></div>
</body></html>
